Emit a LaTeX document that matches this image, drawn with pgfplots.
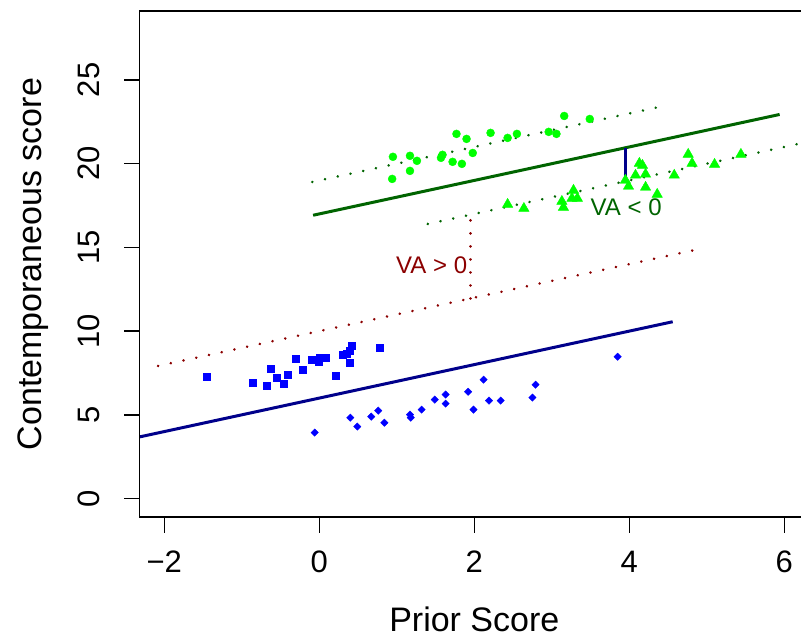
\documentclass[border=0pt]{standalone}
\usepackage{pgfplots}
\pgfplotsset{compat=1.18}
\usepackage{fontspec}
\setmainfont{Liberation Sans}
\definecolor{rgreen}{RGB}{0,255,0}
\definecolor{rdarkgreen}{RGB}{0,100,0}
\definecolor{rblue}{RGB}{0,0,255}
\definecolor{rdarkblue}{RGB}{0,0,139}
\definecolor{rdarkred}{RGB}{139,0,0}

\pgfplotstableread{
x y
0.94 19.09
0.95 20.41
1.17 20.47
1.26 20.17
1.17 19.57
1.57 20.35
1.59 20.53
1.72 20.11
1.84 19.99
1.98 20.64
1.77 21.78
1.90 21.48
2.21 21.84
2.43 21.54
2.55 21.78
2.96 21.90
3.06 21.78
3.16 22.85
3.49 22.67
}\circles

\pgfplotstableread{
x y
2.43 17.57
2.64 17.33
3.13 17.75
3.15 17.39
3.26 17.93
3.28 18.41
3.33 17.93
3.95 19.01
3.99 18.65
4.08 19.31
4.13 20.02
4.17 19.90
4.21 19.37
4.21 18.59
4.36 18.17
4.58 19.31
4.76 20.56
4.81 20.02
5.10 19.96
5.44 20.56
}\triangles

\pgfplotstableread{
x y
-1.45 7.28
-0.86 6.92
-0.68 6.74
-0.63 7.76
-0.55 7.22
-0.46 6.86
-0.41 7.40
-0.30 8.35
-0.21 7.70
-0.10 8.29
-0.01 8.17
0.00 8.41
0.09 8.41
0.21 7.34
0.30 8.59
0.35 8.65
0.39 8.83
0.42 9.13
0.39 8.11
0.78 9.01
}\squares

\pgfplotstableread{
x y
-0.06 3.94
0.40 4.83
0.49 4.30
0.67 4.89
0.76 5.25
0.84 4.53
1.17 5.01
1.18 4.83
1.32 5.31
1.49 5.91
1.63 6.21
1.63 5.67
1.92 6.38
1.99 5.31
2.12 7.10
2.19 5.85
2.34 5.85
2.75 6.03
2.79 6.80
3.85 8.47
}\diamonds

\begin{document}
\begin{tikzpicture}
\path[use as bounding box] (0pt,0pt) rectangle (801pt,639pt);
\begin{axis}[
  name=ax,
  at={(139.5pt,121.7pt)}, anchor=south west,
  scale only axis, width=669.6pt, height=506.3pt,
  xmin=-2.32, xmax=6.32, ymin=-1.12, ymax=29.12,
  axis line style={line width=1.8pt, black},
  tick align=outside, major tick length=15.5pt,
  tick style={line width=1.6pt, black},
  xtick={-2,0,2,4,6}, xticklabels={−2,0,2,4,6},
  ytick={0,5,10,15,20,25}, yticklabels={0,5,10,15,20,25},
  xtick pos=left, ytick pos=left,
  xticklabel style={font=\fontsize{31}{31}\selectfont, anchor=north, inner sep=0pt, yshift=-17.9pt},
  yticklabel style={font=\fontsize{31}{31}\selectfont, rotate=90, anchor=south, inner sep=0pt, yshift=24pt},
  xlabel={Prior Score},
  ylabel={Contemporaneous score},
  xlabel style={font=\fontsize{34}{34}\selectfont, at={(axis description cs:0.5,0)}, anchor=base, inner sep=0pt, yshift=-114pt},
  ylabel style={font=\fontsize{34}{34}\selectfont, at={(axis description cs:0,0.5)}, anchor=base, inner sep=0pt, yshift=97.5pt},
  clip=true,
]
\addplot[only marks, mark=*, mark size=4pt, color=rgreen] table {\circles};
\addplot[only marks, mark=triangle*, mark size=6pt, color=rgreen] table {\triangles};
\addplot[only marks, mark=square*, mark size=3.4pt, color=rblue] table {\squares};
\addplot[only marks, mark=square*, mark size=2.6pt, mark options={rotate=45}, color=rblue] table {\diamonds};

\addplot[rdarkgreen, line width=3pt] coordinates {(-0.08,16.92) (5.94,22.94)};
\addplot[rdarkgreen, line width=2.8pt, line cap=round, dash pattern=on 0.01pt off 13pt] coordinates {(-0.09,18.91) (4.50,23.50)};
\addplot[rdarkgreen, line width=2.8pt, line cap=round, dash pattern=on 0.01pt off 13pt] coordinates {(1.40,16.40) (6.40,21.40)};
\addplot[rdarkred, line width=2.8pt, line cap=round, dash pattern=on 0.01pt off 13pt] coordinates {(-2.08,7.92) (4.87,14.87)};
\addplot[rdarkred, line width=2.8pt, line cap=round, dash pattern=on 0.01pt off 13pt] coordinates {(1.95,11.95) (1.95,16.95)};
\addplot[rdarkblue, line width=3pt] coordinates {(-2.6,3.4) (4.56,10.56)};
\addplot[rdarkblue, line width=3pt] coordinates {(3.957,18.957) (3.957,20.957)};

\node[rdarkred, font=\fontsize{24}{24}\selectfont, inner sep=0pt] at (axis cs:1.45,13.95) {VA > 0};
\node[rdarkgreen, font=\fontsize{24}{24}\selectfont, inner sep=0pt] at (axis cs:3.96,17.41) {VA < 0};
\end{axis}
\draw[line width=1.8pt, line cap=rect] (ax.north east) -- (ax.north west) -- (ax.south west) -- (ax.south east);
\end{tikzpicture}
\end{document}
